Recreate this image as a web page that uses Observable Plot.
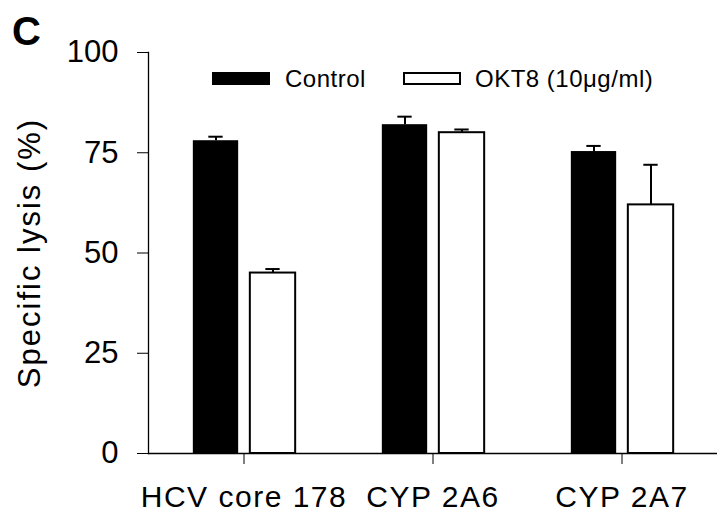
<!DOCTYPE html>
<html>
<head>
<meta charset="utf-8">
<script src="https://cdn.jsdelivr.net/npm/d3@7"></script>
<script src="https://cdn.jsdelivr.net/npm/@observablehq/plot@0.6"></script>
<style>
  html, body { margin: 0; padding: 0; background: #fff; }
  #wrap { position: relative; width: 720px; height: 513px; font-family: "Liberation Sans", Arial, Helvetica, sans-serif; color: #000; }
  #wrap svg { position: absolute; left: 0; top: 0; }
  #panel { position: absolute; left: 12px; top: 11px; font-size: 40px; font-weight: bold; line-height: 40px; }
  .sw { position: absolute; box-sizing: border-box; }
  .lt { position: absolute; font-size: 24px; line-height: 24px; letter-spacing: 0.5px; white-space: nowrap; }
  g[aria-label="x-axis tick label"] text { letter-spacing: 1.5px; }
  g[aria-label="y-axis label"] text { letter-spacing: 2px; font-size: 31px; }
</style>
</head>
<body>
<div id="wrap"></div>
<script>
// ---- data ----
const categories = ["HCV core 178", "CYP 2A6", "CYP 2A7"];
const seriesNames = ["Control", "OKT8 (10\u03bcg/ml)"];
const controlValues = [78, 82, 75.3];
const controlErrors = [1, 2, 1.4];
const okt8Values = [45, 80, 62];
const okt8Errors = [1, 0.8, 10];
const yTicks = [0, 25, 50, 75, 100];
const yLabel = "Specific lysis (%)";
const panelLabel = "C";

const control = categories.map((c, i) => ({cat: c, series: seriesNames[0], value: controlValues[i], err: controlErrors[i]}));
const okt8 = categories.map((c, i) => ({cat: c, series: seriesNames[1], value: okt8Values[i], err: okt8Errors[i]}));

const W = 720, H = 513;
const mL = 148, mR = 3, mT = 52, mB = 60;
const band = (W - mL - mR) / categories.length;
const barW = 46, capW = 15, off = 28;
const barInset = (band - barW) / 2;
const capInset = (band - capW) / 2;

const chart = Plot.plot({
  width: W,
  height: H,
  marginLeft: mL,
  marginRight: mR,
  marginTop: mT,
  marginBottom: mB,
  style: {fontFamily: '"Liberation Sans", Arial, Helvetica, sans-serif', fontSize: "31px", color: "#000", background: "transparent"},
  x: {domain: categories, padding: 0, axis: null},
  y: {domain: [0, 100], axis: null},
  marks: [
    Plot.barY(control, {x: "cat", y: "value", fill: "#000", insetLeft: barInset, insetRight: barInset, dx: -off}),
    Plot.barY(okt8, {x: "cat", y: "value", fill: "#fff", stroke: "#000", strokeWidth: 2, insetLeft: barInset + 1, insetRight: barInset - 1, dx: off}),
    Plot.ruleX(control, {x: "cat", y1: "value", y2: d => d.value + d.err, dx: -off, strokeWidth: 2}),
    Plot.ruleX(okt8, {x: "cat", y1: "value", y2: d => d.value + d.err, dx: off + 1, strokeWidth: 2}),
    Plot.tickY(control, {x: "cat", y: d => d.value + d.err, dx: -off, insetLeft: capInset, insetRight: capInset, strokeWidth: 2}),
    Plot.tickY(okt8, {x: "cat", y: d => d.value + d.err, dx: off + 1, insetLeft: capInset, insetRight: capInset, strokeWidth: 2}),
    Plot.frame({anchor: "left", strokeWidth: 1.3}),
    Plot.ruleY([0], {strokeWidth: 1.3}),
    Plot.axisY({ticks: yTicks, tickSize: 11, tickPadding: 19, tickFormat: d => String(d), label: yLabel, labelArrow: "none", labelAnchor: "center", labelOffset: 131, fontSize: 31}),
    Plot.axisX({tickSize: 11, tickPadding: 21, fontSize: 30, label: null})
  ]
});

// strip any arrow Plot may add to the axis label
chart.querySelectorAll('g[aria-label="y-axis label"] text').forEach(t => {
  t.textContent = t.textContent.replace(/\s*[\u2191\u2193]\s*/g, "");
});

const wrap = document.getElementById("wrap");
wrap.appendChild(chart);

const p = document.createElement("div");
p.id = "panel"; p.textContent = panelLabel;
wrap.appendChild(p);

// legend overlay
const legendItems = [
  {name: seriesNames[0], swLeft: 212, fill: "#000", border: "none", textLeft: 285},
  {name: seriesNames[1], swLeft: 403, fill: "#fff", border: "2px solid #000", textLeft: 475}
];
for (const it of legendItems) {
  const s = document.createElement("div");
  s.className = "sw";
  Object.assign(s.style, {left: it.swLeft + "px", top: "72px", width: "58px", height: "13px", background: it.fill, border: it.border});
  wrap.appendChild(s);
  const t = document.createElement("div");
  t.className = "lt";
  Object.assign(t.style, {left: it.textLeft + "px", top: "67px"});
  t.textContent = it.name;
  wrap.appendChild(t);
}
</script>
</body>
</html>
